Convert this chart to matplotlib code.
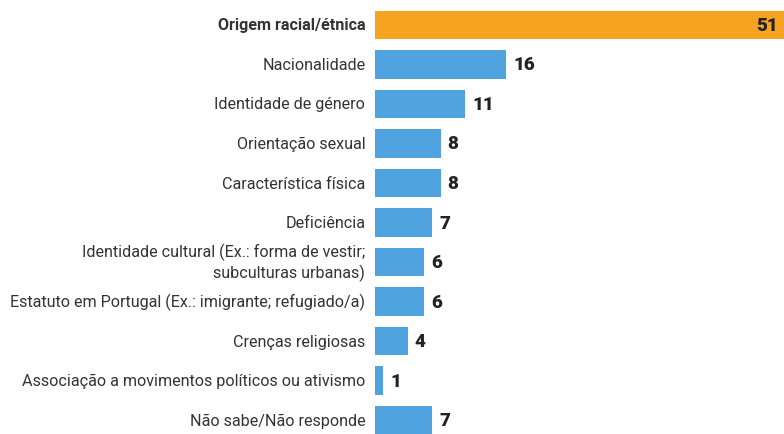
import matplotlib
matplotlib.use("Agg")
import matplotlib.pyplot as plt

categories = [
    "Origem racial/étnica",
    "Nacionalidade",
    "Identidade de género",
    "Orientação sexual",
    "Característica física",
    "Deficiência",
    "Identidade cultural (Ex.: forma de vestir;\nsubculturas urbanas)",
    "Estatuto em Portugal (Ex.: imigrante; refugiado/a)",
    "Crenças religiosas",
    "Associação a movimentos políticos ou ativismo",
    "Não sabe/Não responde",
]
values = [51, 16, 11, 8, 8, 7, 6, 6, 4, 1, 7]

ORANGE = "#F6A321"
BLUE = "#4FA3DE"
TEXT = "#333333"

plt.rcParams["font.family"] = ["Roboto", "DejaVu Sans"]

fig = plt.figure(figsize=(7.84, 4.35), dpi=100)
ax = fig.add_axes([375 / 784, 0, 409 / 784, 1])

pos = list(range(len(values)))
colors = [ORANGE] + [BLUE] * (len(values) - 1)
ax.barh(pos, values, height=0.71, color=colors)

ax.set_xlim(0, 49.9)
ax.set_ylim(10.354, -0.658)
ax.axis("off")

for i, (cat, v) in enumerate(zip(categories, values)):
    ax.annotate(cat, xy=(0, i), xytext=(-7, 0), textcoords="offset points",
                ha="right", va="center", multialignment="right",
                fontsize=11.6, color=TEXT, linespacing=1.25,
                fontweight="bold" if i == 0 else "normal",
                annotation_clip=False)
    if i == 0:
        ax.annotate(str(v), xy=(1, i), xycoords=("axes fraction", "data"),
                    xytext=(-4, 0), textcoords="offset points",
                    ha="right", va="center", fontsize=13.5,
                    fontweight="heavy", color="#222222")
    else:
        ax.annotate(str(v), xy=(v, i), xytext=(5, 0), textcoords="offset points",
                    ha="left", va="center", fontsize=13.5,
                    fontweight="heavy", color="#222222")

fig.savefig("out.png", dpi=100, facecolor="white")
